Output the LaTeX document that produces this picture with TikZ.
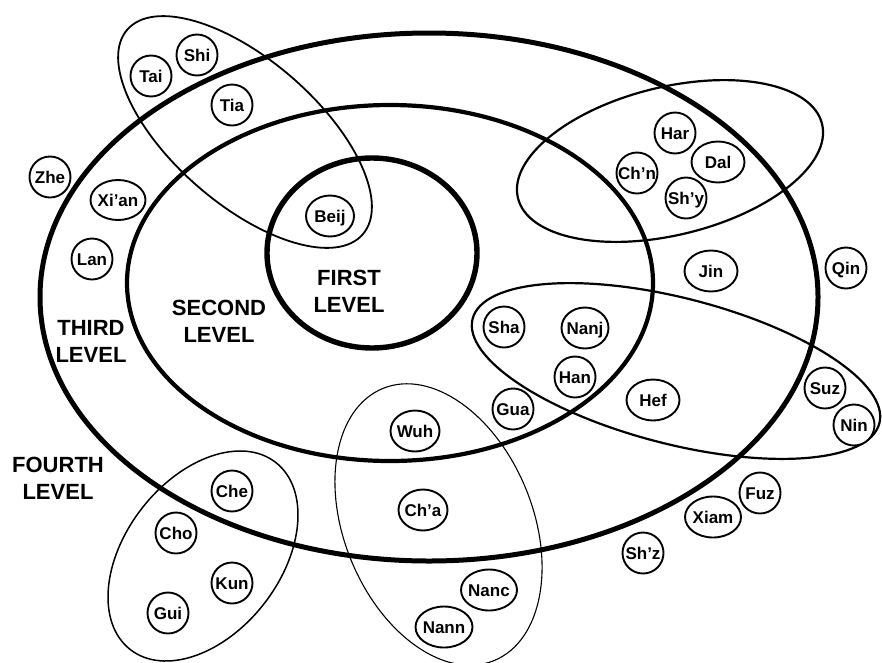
\documentclass[tikz,border=0pt]{standalone}
\usepackage{fontspec}
\setmainfont{Liberation Sans}
\usetikzlibrary{shapes.geometric}
\newcommand\cty[1]{\makebox[0pt]{#1}}
\begin{document}
\begin{tikzpicture}[x=1pt,y=-1pt,
  city/.style={ellipse, draw, fill=white, line width=1.9pt, inner sep=0pt,
    minimum width=41pt, minimum height=41pt,
    font=\bfseries\fontsize{17}{18}\selectfont, text height=12pt, text depth=0pt},
  lvl/.style={font=\bfseries\fontsize{22}{27}\selectfont, align=center, inner sep=0pt},
  level1/.style={line width=5.4pt},
  level2/.style={line width=4.2pt},
  level3/.style={line width=5pt},
  grp/.style={line width=#1},
]
\useasboundingbox (0,0) rectangle (882,662);
% level rings
\draw[level3] (429,297) ellipse [x radius=389, y radius=264];
\draw[level2] (390,283) ellipse [x radius=263, y radius=178];
\draw[level1] (372,253) ellipse [x radius=105, y radius=95];
% group ellipses
\draw[grp=1.8pt, rotate around={-41:(245,132)}] (245,132) ellipse [x radius=156, y radius=72];
\draw[grp=2.2pt, rotate around={13.7:(670,161)}] (670,161) ellipse [x radius=156.5, y radius=74];
\draw[grp=2.2pt, rotate around={-14.4:(676,371)}] (676,371) ellipse [x radius=210, y radius=73];
\draw[grp=1.5pt, rotate around={52.2:(203,556)}] (203,556) ellipse [x radius=118.5, y radius=77.5];
\draw[grp=1.1pt, rotate around={112.2:(438.5,524.5)}] (438.5,524.5) ellipse [x radius=147, y radius=94.4];
% level labels
\node[lvl] (first) at (349,291) {FIRST\\LEVEL};
\node[lvl] (second) at (219,321) {SECOND\\LEVEL};
\node[lvl] (third) at (91,341) {THIRD\\LEVEL};
\node[lvl] (fourth) at (58,478) {FOURTH\\LEVEL};
% cities
\node[city] (shi) at (197,55) {\cty{Shi}};
\node[city] (tai) at (151,76) {\cty{Tai}};
\node[city] (tia) at (232,105) {\cty{Tia}};
\node[city] (zhe) at (50,177) {\cty{Zhe}};
\node[city, minimum width=55pt, minimum height=40pt] (xian) at (118,200) {\cty{Xi’an}};
\node[city] (lan) at (92,259) {\cty{Lan}};
\node[city, minimum width=48pt] (beij) at (330,216) {\cty{Beij}};
\node[city] (har) at (675,133) {\cty{Har}};
\node[city, minimum width=53pt] (dal) at (718,162) {\cty{Dal}};
\node[city] (chn) at (637,173) {\cty{Ch’n}};
\node[city] (shy) at (686,198) {\cty{Sh’y}};
\node[city, minimum width=53pt] (jin) at (711,271) {\cty{Jin}};
\node[city] (qin) at (846,268) {\cty{Qin}};
\node[city] (sha) at (504,327) {\cty{Sha}};
\node[city, minimum width=47pt] (nanj) at (585,328) {\cty{Nanj}};
\node[city] (han) at (575,377) {\cty{Han}};
\node[city] (gua) at (513,409) {\cty{Gua}};
\node[city, minimum width=49pt] (wuh) at (415,431) {\cty{Wuh}};
\node[city, minimum width=53pt] (hef) at (653,400) {\cty{Hef}};
\node[city] (suz) at (825,388) {\cty{Suz}};
\node[city] (nin) at (854,425) {\cty{Nin}};
\node[city] (fuz) at (760,493) {\cty{Fuz}};
\node[city, minimum width=56pt] (xiam) at (713,517) {\cty{Xiam}};
\node[city] (shz) at (643,553) {\cty{Sh’z}};
\node[city, minimum width=56pt] (nanc) at (489,590) {\cty{Nanc}};
\node[city, minimum width=49pt] (cha) at (423,510) {\cty{Ch’a}};
\node[city, minimum width=57pt] (nann) at (444,627) {\cty{Nann}};
\node[city] (che) at (232,491) {\cty{Che}};
\node[city] (cho) at (176,533) {\cty{Cho}};
\node[city] (kun) at (232,583) {\cty{Kun}};
\node[city] (gui) at (168,613) {\cty{Gui}};
\end{tikzpicture}
\end{document}
